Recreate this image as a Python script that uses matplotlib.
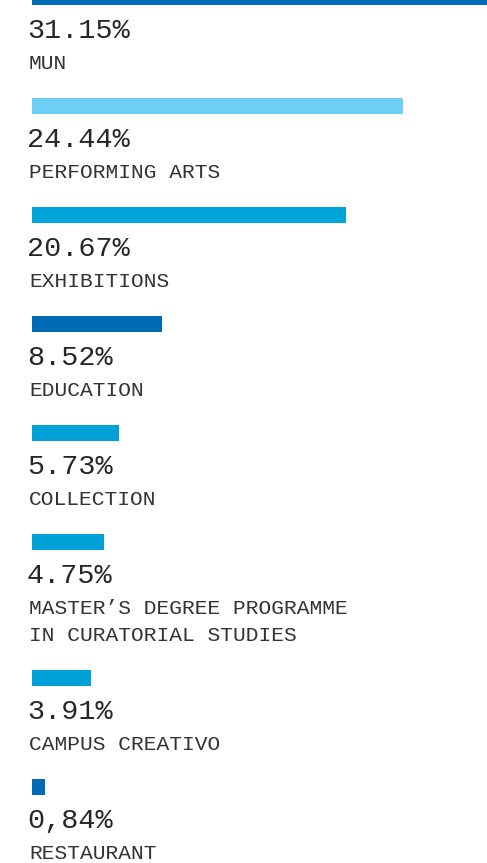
import matplotlib
matplotlib.use("Agg")
import matplotlib.pyplot as plt
import matplotlib.transforms as mtransforms

# Dati
categorie = ["MUN", "PERFORMING ARTS", "EXHIBITIONS", "EDUCATION", "COLLECTION",
             "MASTER\u2019S DEGREE PROGRAMME\nIN CURATORIAL STUDIES",
             "CAMPUS CREATIVO", "RESTAURANT"]
valori = [31.15, 24.44, 20.67, 8.52, 5.73, 4.75, 3.91, 0.84]
etichette = ["31.15%", "24.44%", "20.67%", "8.52%", "5.73%", "4.75%", "3.91%", "0,84%"]
colori = ["#006ab4", "#6dcff6", "#00a4d9", "#006ab4", "#00a1d6",
          "#00a1d6", "#00a1d6", "#006ab4"]

W, H = 487, 863
px_per_pct = 15.2
x0 = 32

fig = plt.figure(figsize=(W / 100, H / 100), dpi=100)
ax = fig.add_axes([0, 0, 1, 1])
ax.set_xlim(-x0 / px_per_pct, (W - x0) / px_per_pct)
ax.set_ylim(H, 0)
ax.axis("off")

# posizioni verticali (in pixel) in base al numero di righe delle etichette
passo = 109
riga_extra = 27
posizioni = []
y = -3
for cat in categorie:
    posizioni.append(y)
    y += passo + riga_extra * cat.count("\n")

ax.barh(posizioni, valori, height=16, color=colori, left=0)

trans = mtransforms.blended_transform_factory(ax.transAxes, ax.transData)
for pos, cat, et in zip(posizioni, categorie, etichette):
    ax.text(27 / W, pos + 41, et, transform=trans, fontsize=20.5,
            family="Liberation Mono", color="#262626", va="baseline", ha="left")
    for i, riga in enumerate(cat.split("\n")):
        ax.text(29 / W, pos + 72 + riga_extra * i, riga, transform=trans,
                fontsize=15.3, family="Liberation Mono", color="#333333",
                va="baseline", ha="left")

fig.savefig("out.png", dpi=100)
